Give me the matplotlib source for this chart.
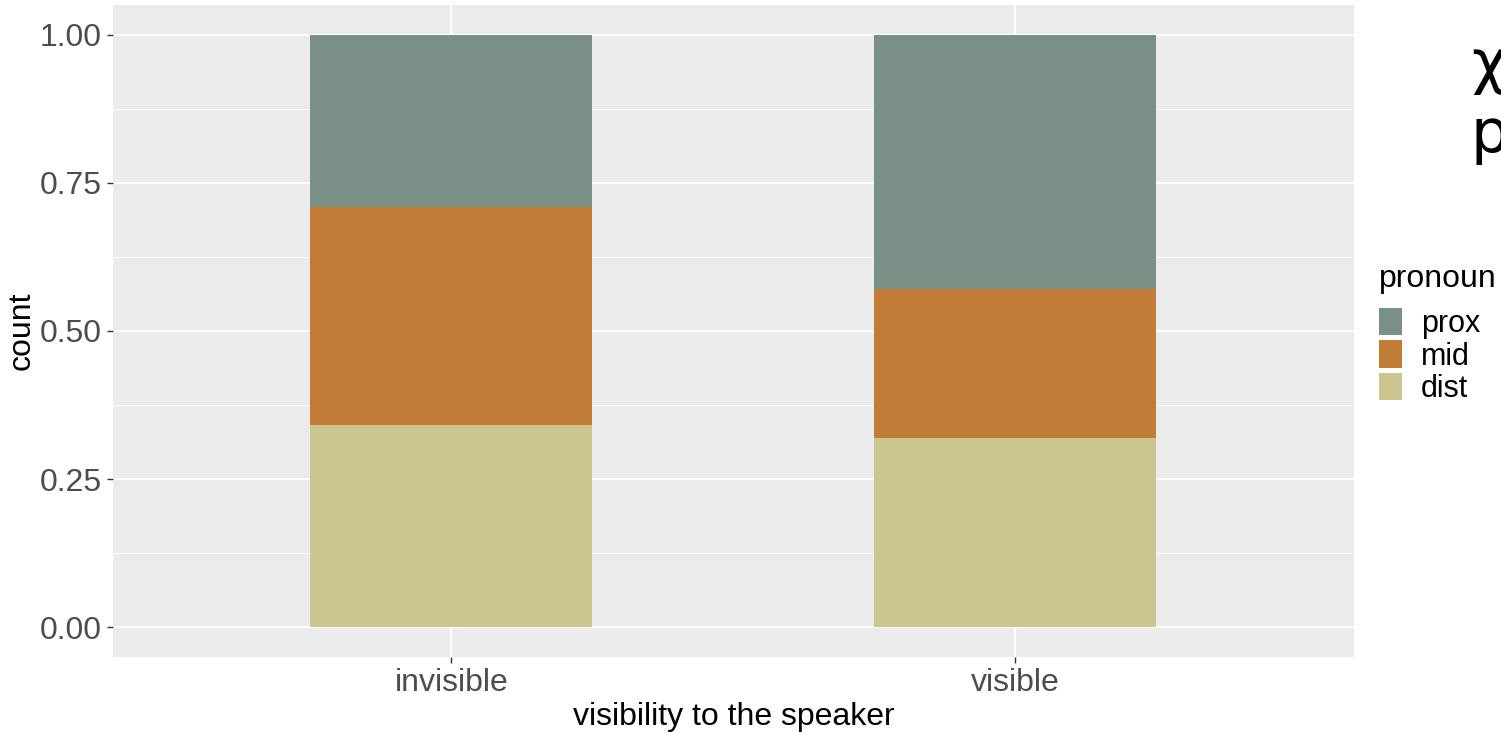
import numpy as np
import matplotlib.pyplot as plt
from matplotlib.ticker import MultipleLocator

plt.rcParams['font.family'] = ['Liberation Sans', 'DejaVu Sans']

categories = ['invisible', 'visible']
pronouns = ['prox', 'mid', 'dist']
dist = np.array([0.342, 0.320])
mid = np.array([0.368, 0.250])
prox = 1 - dist - mid
colors = {'prox': '#7A8F86', 'mid': '#C17D38', 'dist': '#CCC590'}

fig = plt.figure(figsize=(15.01, 7.33), dpi=100)
ax = fig.add_axes([0.0753, 0.1037, 0.902 - 0.0753, 0.9932 - 0.1037])
ax.set_facecolor('#EBEBEB')

x = np.arange(1, len(categories) + 1)
bars = {}
bars['dist'] = ax.bar(x, dist, width=0.5, color=colors['dist'], zorder=3)
bars['mid'] = ax.bar(x, mid, width=0.5, bottom=dist, color=colors['mid'], zorder=3)
bars['prox'] = ax.bar(x, prox, width=0.5, bottom=dist + mid, color=colors['prox'], zorder=3)

ax.set_xlim(0.4, 2.6)
ax.set_ylim(-0.05, 1.05)
ax.set_xticks(x)
ax.set_xticklabels(categories)
ax.yaxis.set_major_locator(MultipleLocator(0.25))
ax.yaxis.set_minor_locator(MultipleLocator(0.125))
ax.yaxis.set_major_formatter(lambda v, p: f'{v:.2f}')
ax.grid(which='major', color='white', linewidth=1.4, zorder=0)
ax.grid(which='minor', axis='y', color='white', linewidth=0.7, zorder=0)
ax.tick_params(which='minor', length=0)
ax.tick_params(which='major', length=4, color='#333333', width=1,
               labelsize=23, labelcolor='#4D4D4D', pad=4)
for s in ax.spines.values():
    s.set_visible(False)

ax.set_xlabel('visibility to the speaker', fontsize=23, labelpad=3)
ax.set_ylabel('count', fontsize=23, labelpad=2)

handles = [bars[p][0] for p in pronouns]
leg = fig.legend(handles, pronouns, title='pronoun', loc='upper left',
                 bbox_to_anchor=(0.919, 0.64), frameon=False, fontsize=22,
                 title_fontsize=23, handlelength=0.75, handleheight=1.0,
                 labelspacing=0.05, handletextpad=0.6, borderaxespad=0,
                 borderpad=0)
leg._legend_box.align = 'left'
leg._legend_box.sep = 10

fig.text(0.980, 0.91, 'χ', fontsize=44, family='DejaVu Sans', va='center', ha='left')
fig.text(0.980, 0.815, 'p', fontsize=44, family='DejaVu Sans', va='center', ha='left')

fig.savefig('out.png', dpi=100)
